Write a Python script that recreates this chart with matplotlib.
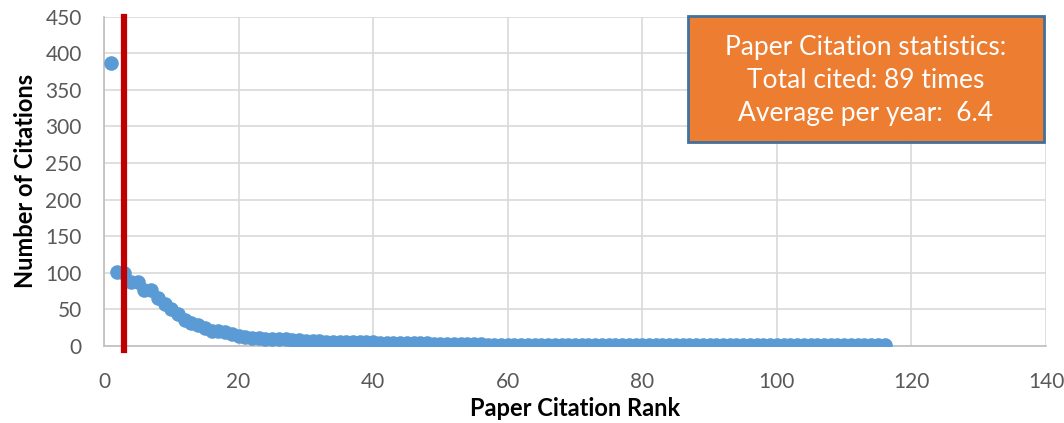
import matplotlib
matplotlib.use("Agg")
import matplotlib.pyplot as plt
from matplotlib.patches import Rectangle

# ---- data ----
citations = [386, 101, 100, 87, 87, 77, 77, 65, 57, 50,
             44, 35, 31, 28, 24, 21, 20, 19, 17, 13,
             12, 11, 11, 10, 10, 9, 9, 8, 8, 7,
             7, 7, 6, 6, 6, 5, 5, 5, 5, 5,
             4, 4, 4, 4, 4, 4, 4, 4, 3, 3,
             3, 3, 3, 3, 3, 3, 2, 2, 2, 2,
             2, 2, 2, 2, 2, 2, 2, 2, 2, 2] + [1] * 46
ranks = list(range(1, len(citations) + 1))
h_index = 3
x_ticks = [0, 20, 40, 60, 80, 100, 120, 140]
y_ticks = [0, 50, 100, 150, 200, 250, 300, 350, 400, 450]
box_lines = ["Paper Citation statistics:", "Total cited: 89 times", "Average per year:  6.4"]

plt.rcParams['font.family'] = ['Lato', 'DejaVu Sans']

fig = plt.figure(figsize=(10.64, 4.23), dpi=100)
ax = fig.add_axes([104/1064, 1-346/423, (1046-104)/1064, (346-16.5)/423])

ax.plot(ranks, citations, 'o', color='#5B9BD5', markersize=10.5, markeredgewidth=0, zorder=3)
ax.plot([h_index, h_index], [-6, 450], color='#C00000', linewidth=4.5, clip_on=False, zorder=4)

ax.set_xlim(0, 140)
ax.set_ylim(0, 450)
ax.set_xticks(x_ticks)
ax.set_yticks(y_ticks)
ax.grid(True, color='#D9D9D9', linewidth=1.2)
ax.set_axisbelow(True)
for s in ['top', 'right']:
    ax.spines[s].set_visible(False)
for s in ['left', 'bottom']:
    ax.spines[s].set_color('#BFBFBF')
    ax.spines[s].set_linewidth(1.2)
ax.tick_params(axis='x', length=0, labelsize=15, labelcolor='#595959', pad=19)
ax.tick_params(axis='y', length=0, labelsize=15, labelcolor='#595959', pad=16)

ax.set_xlabel("Paper Citation Rank", fontsize=17, fontweight='bold', labelpad=3)
ax.set_ylabel("Number of Citations", fontsize=17, fontweight='bold', labelpad=6)

# text box
bx0, bx1 = 688/1064, 1044/1064
by1, by0 = 1-16/423, 1-142/423
fig.patches.append(Rectangle((bx0, by0), bx1-bx0, by1-by0, transform=fig.transFigure,
                             facecolor='#ED7D31', edgecolor='#41719C', linewidth=2, zorder=5))
cx = (bx0 + bx1) / 2
for i, line in enumerate(box_lines):
    fig.text(cx, 1-(47 + 33*i)/423, line, ha='center', va='center', color='white',
             fontsize=19, zorder=6)

fig.savefig("out.png", dpi=100)
